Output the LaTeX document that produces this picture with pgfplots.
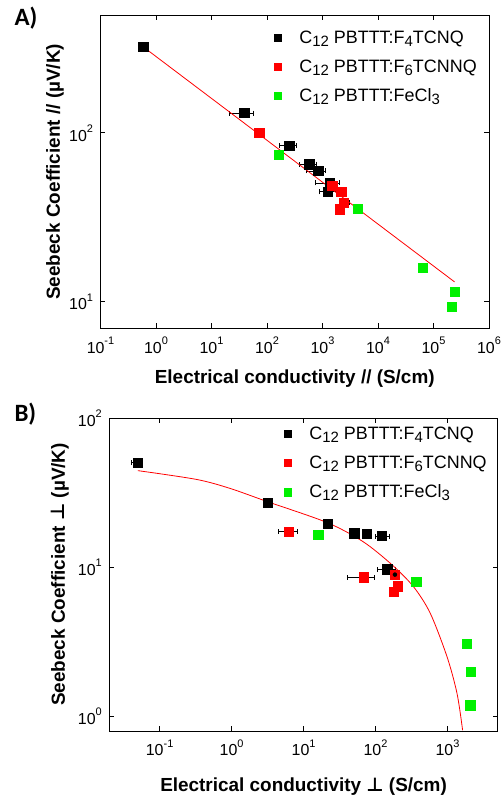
\documentclass[border=0pt]{standalone}
\usepackage{pgfplots}
\pgfplotsset{compat=1.18}
\usepackage{fontspec}
\setmainfont{Liberation Sans}
\newfontfamily\carlito{Carlito}
\newfontfamily\dejavu{DejaVu Sans}
\definecolor{dred}{RGB}{255,0,0}
\definecolor{dgreen}{RGB}{0,240,0}
\newcommand\lgf{\fontsize{18}{21}\selectfont}
\newcommand\sbs[1]{\raisebox{-2.8bp}{\fontsize{15}{15}\selectfont #1}}
\newcommand\sps[1]{\raisebox{0.55em}{\fontsize{11}{11}\selectfont #1}}

\pgfplotsset{
  panel/.style={
    scale only axis, width=388.5bp, height=313bp,
    xminorticks=false, yminorticks=false,
    tick align=inside, major tick length=5bp,
    axis line style={line width=0.9bp},
    every tick/.style={black, line width=0.8bp},
    ticklabel style={font=\fontsize{16}{18}\selectfont},
    yticklabel style={xshift=-4bp},
    xticklabel style={yshift=-5bp},
    label style={font=\bfseries\fontsize{19}{22}\selectfont},
    legend style={draw=none, fill=none, inner sep=0pt, outer sep=0pt,
      font=\lgf, anchor=north west,
      /tikz/every odd column/.append style={column sep=16bp},
      /tikz/row sep=11bp},
    legend cell align=left,
    legend image code/.code={\draw[##1, mark size=3.6bp] plot coordinates {(0bp,0bp)};},
  },
  blk/.style={only marks, mark=square*, mark size=4.6bp, black},
  rd/.style={only marks, mark=square*, mark size=4.6bp, dred},
  gr/.style={only marks, mark=square*, mark size=4.6bp, dgreen},
}

\begin{document}
\begin{tikzpicture}
\useasboundingbox (0bp,0bp) rectangle (504bp,-800bp);

\node[anchor=west] at (11bp,-18bp) {\carlito\bfseries\fontsize{25}{25}\selectfont A)};
\node[anchor=west] at (11bp,-414bp) {\carlito\bfseries\fontsize{25}{25}\selectfont B)};

% A) parallel
\begin{axis}[xmode=log, ymode=log, panel, at={(100.5bp,-328.3bp)}, anchor=south west,
  xmin=0.1, xmax=1e6, ymin=6.96, ymax=497,
  xtick={0.1,1,10,100,1000,1e4,1e5,1e6},
  xticklabels={10\sps{-1},10\sps{0},10\sps{1},10\sps{2},10\sps{3},10\sps{4},10\sps{5},10\sps{6}},
  ytick={10,100}, yticklabels={10\sps{1},10\sps{2}},
  xlabel={Electrical conductivity // (S/cm)},
  ylabel={Seebeck Coefficient // (µV/K)},
  xlabel style={at={(axis description cs:0.5,-0.16)}, anchor=center},
  ylabel style={at={(axis description cs:-0.117,0.5)}, anchor=center},
  legend style={at={(axis description cs:0.447,0.957)}},
]
\addplot[only marks, mark=none, forget plot, black,
  error bars/.cd, x dir=both, x explicit,
  error bar style={black, line width=0.6bp},
  error mark options={rotate=90, black, mark size=2.5bp, line width=0.6bp}]
  coordinates {
  (38.9,131) -= (17.9,0) += (17.1,0)
  (251,84.2) -= (81,0) += (80,0)
  (575,65.3) -= (197,0) += (189,0)
  (834,59.6) -= (315,0) += (309,0)
  (1350,50.6) -= (617,0) += (660,0)
  (1260,44.8) -= (383,0) += (641,0)
  (72.5,100) -= (10,0) += (13,0)
  (2410,38.5) -= (430,0) += (590,0)
};
\addplot[blk] coordinates {(0.59,323) (38.9,131) (251,84.2) (575,65.3) (834,59.6) (1350,50.6) (1260,44.8)};
\addlegendentry{\lgf C\sbs{12} PBTTT:F\sbs{4}TCNQ}
\addplot[rd] coordinates {(72.5,100) (1490,48.7) (2180,44.8) (2410,38.5) (2040,35.3)};
\addlegendentry{\lgf C\sbs{12} PBTTT:F\sbs{6}TCNNQ}
\addplot[gr] coordinates {(163,74.4) (4370,35.6) (64600,15.9) (240000,11.5) (215000,9.33)};
\addlegendentry{\lgf C\sbs{12} PBTTT:FeCl\sbs{3}}
\addplot[dred, line width=0.8bp, forget plot] coordinates {(0.59,323) (240000,13.1)};
\end{axis}

% B) perpendicular
\begin{axis}[xmode=log, ymode=log, panel, at={(109.3bp,-731bp)}, anchor=south west,
  xmin=0.02, xmax=5000, ymin=0.8, ymax=100,
  xtick={0.1,1,10,100,1000},
  xticklabels={10\sps{-1},10\sps{0},10\sps{1},10\sps{2},10\sps{3}},
  ytick={1,10,100}, yticklabels={10\sps{0},10\sps{1},10\sps{2}},
  xlabel={Electrical conductivity {\dejavu\bfseries ⊥} (S/cm)},
  ylabel={Seebeck Coefficient {\dejavu\bfseries ⊥} (µV/K)},
  xlabel style={at={(axis description cs:0.5,-0.178)}, anchor=center},
  ylabel style={at={(axis description cs:-0.127,0.5)}, anchor=center},
  legend style={at={(axis description cs:0.45,0.978)}},
]
\addplot[only marks, mark=none, forget plot, black,
  error bars/.cd, x dir=both, x explicit,
  error bar style={black, line width=0.6bp},
  error mark options={rotate=90, black, mark size=2.5bp, line width=0.6bp}]
  coordinates {
  (0.049,50.2) -= (0.0086,0) += (0.0084,0)
  (122,16.2) -= (23.4,0) += (32.5,0)
  (145,9.7) -= (38,0) += (42,0)
  (6.19,17.4) -= (1.71,0) += (1.88,0)
  (68,8.57) -= (26.9,0) += (27.7,0)
};
\addplot[blk] coordinates {(0.049,50.2) (3.16,27.2) (21.5,19.7) (50.6,16.9) (75.8,16.7) (122,16.2) (145,9.7)};
\addlegendentry{\lgf C\sbs{12} PBTTT:F\sbs{4}TCNQ}
\addplot[rd] coordinates {(6.19,17.4) (68,8.57) (186,8.93) (204,7.46) (178,6.87)};
\addlegendentry{\lgf C\sbs{12} PBTTT:F\sbs{6}TCNNQ}
\addplot[gr] coordinates {(16,16.6) (367,7.98) (1836,3.08) (2090,2.0) (2065,1.19)};
\addlegendentry{\lgf C\sbs{12} PBTTT:FeCl\sbs{3}}
\addplot[only marks, mark=none, forget plot, black,
  error bars/.cd, x dir=both, y dir=both, x explicit, y explicit,
  error bar style={black, line width=0.6bp},
  error mark options={black, mark size=2.5bp, line width=0.6bp}]
  coordinates {(186,8.93) -= (17,0.3) += (19,0.6)};
\addplot[dred, line width=0.8bp, smooth, forget plot] coordinates {
  (0.0499,44.4) (0.324,38.8) (0.944,33.8) (3.16,27.5) (21.4,19.9) (67.8,14.8)
  (169,10.4) (337,7.41) (576,4.92) (984,2.52) (1356,1.43) (1622,0.81)
};
\end{axis}
\end{tikzpicture}
\end{document}
